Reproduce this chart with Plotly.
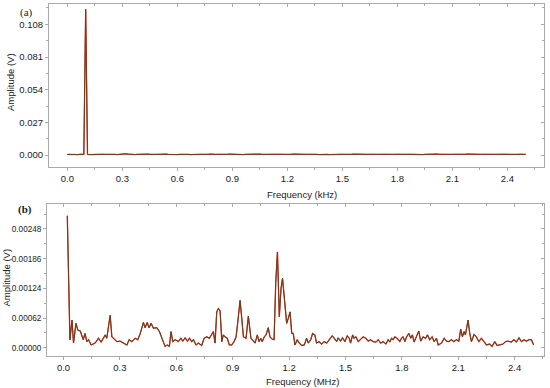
import numpy as np
import plotly.graph_objects as go

# ---------------- data ----------------
# Panel (a): frequency grid in kHz (0.00 .. 2.50, step 0.01) and amplitude in mV
freq_a_khz = np.round(np.arange(251) * 0.01, 2)
amp_a_mv = [
    0.5, 0.4, 0.5, 0.6, 0.4, 0.5, 0.4, 0.6, 0.5, 0.6,
    120.4, 0.6, 0.4, 0.5, 0.5, 0.6, 0.4, 0.5, 0.7, 0.6,
    0.5, 0.6, 0.4, 0.5, 0.7, 0.6, 0.5, 0.4, 0.6, 0.7,
    0.8, 0.9, 1.0, 0.8, 0.6, 0.5, 0.6, 0.4, 0.5, 0.6,
    0.5, 0.4, 0.6, 0.5, 0.7, 0.5, 0.4, 0.5, 0.6, 0.5,
    0.6, 0.7, 0.9, 1.0, 0.7, 0.5, 0.4, 0.5, 0.6, 0.5,
    0.4, 0.5, 0.6, 0.5, 0.4, 0.6, 0.5, 0.4, 0.5, 0.6,
    0.5, 0.4, 0.5, 0.6, 0.5, 0.4, 0.5, 0.6, 0.7, 0.5,
    0.4, 0.5, 0.6, 0.5, 0.4, 0.5, 0.6, 0.5, 0.7, 0.6,
    0.5, 0.4, 0.5, 0.6, 0.5, 0.6, 0.4, 0.5, 0.6, 0.5,
    0.6, 0.5, 0.4, 0.5, 0.6, 0.7, 0.5, 0.4, 0.5, 0.6,
    0.5, 0.6, 0.7, 0.6, 0.5, 0.4, 0.5, 0.6, 0.5, 0.4,
    0.5, 0.6, 0.5, 0.7, 0.6, 0.5, 0.4, 0.5, 0.6, 0.5,
    0.4, 0.5, 0.6, 0.7, 0.5, 0.6, 0.5, 0.4, 0.5, 0.6,
    0.5, 0.6, 0.5, 0.4, 0.5, 0.6, 0.7, 0.5, 0.4, 0.5,
    0.6, 0.5, 0.4, 0.5, 0.6, 0.5, 0.7, 0.6, 0.5, 0.4,
    0.5, 0.6, 0.5, 0.4, 0.5, 0.6, 0.5, 0.4, 0.6, 0.5,
    0.4, 0.5, 0.6, 0.5, 0.7, 0.6, 0.5, 0.4, 0.5, 0.6,
    0.5, 0.4, 0.5, 0.6, 0.5, 0.4, 0.5, 0.6, 0.5, 0.4,
    0.5, 0.6, 0.7, 0.5, 0.4, 0.5, 0.6, 0.5, 0.4, 0.5,
    0.6, 0.7, 0.8, 0.6, 0.5, 0.4, 0.5, 0.6, 0.5, 0.4,
    0.5, 0.6, 0.5, 0.4, 0.5, 0.6, 0.5, 0.6, 0.8, 0.7,
    0.5, 0.4, 0.5, 0.6, 0.5, 0.4, 0.5, 0.6, 0.5, 0.4,
    0.5, 0.6, 0.5, 0.4, 0.5, 0.6, 0.7, 0.5, 0.4, 0.5,
    0.6, 0.5, 0.4, 0.5, 0.6, 0.5, 0.6, 0.8, 0.5, 0.6,
    0.5,
]

# Panel (b): frequency in MHz and amplitude in microvolts
freq_b_mhz = [
    0.020, 0.034, 0.045, 0.053, 0.066, 0.076, 0.089, 0.098, 0.105, 0.114,
    0.124, 0.133, 0.147, 0.168, 0.186, 0.200, 0.222, 0.230, 0.248, 0.257,
    0.266, 0.284, 0.301, 0.319, 0.337, 0.349, 0.363, 0.381, 0.395, 0.408,
    0.425, 0.434, 0.445, 0.455, 0.466, 0.478, 0.496, 0.510, 0.523, 0.540,
    0.553, 0.563, 0.572, 0.581, 0.594, 0.611, 0.624, 0.634, 0.647, 0.659,
    0.670, 0.682, 0.691, 0.705, 0.717, 0.735, 0.748, 0.762, 0.776, 0.789,
    0.797, 0.806, 0.815, 0.824, 0.833, 0.842, 0.850, 0.859, 0.871, 0.882,
    0.895, 0.907, 0.918, 0.927, 0.939, 0.948, 0.957, 0.971, 0.983, 0.997,
    1.010, 1.019, 1.031, 1.040, 1.049, 1.057, 1.068, 1.077, 1.089, 1.098,
    1.110, 1.120, 1.129, 1.138, 1.148, 1.157, 1.165, 1.174, 1.187, 1.196,
    1.205, 1.214, 1.222, 1.231, 1.243, 1.254, 1.267, 1.281, 1.293, 1.302,
    1.315, 1.325, 1.337, 1.346, 1.359, 1.373, 1.387, 1.400, 1.417, 1.429,
    1.440, 1.453, 1.461, 1.474, 1.484, 1.497, 1.509, 1.520, 1.527, 1.538,
    1.545, 1.555, 1.568, 1.580, 1.594, 1.608, 1.621, 1.633, 1.647, 1.662,
    1.674, 1.687, 1.700, 1.715, 1.727, 1.736, 1.745, 1.753, 1.762, 1.775,
    1.789, 1.798, 1.806, 1.816, 1.825, 1.837, 1.847, 1.856, 1.865, 1.877,
    1.890, 1.900, 1.913, 1.926, 1.936, 1.948, 1.961, 1.971, 1.984, 1.993,
    2.011, 2.025, 2.037, 2.050, 2.064, 2.076, 2.090, 2.103, 2.113, 2.122,
    2.131, 2.138, 2.152, 2.161, 2.170, 2.184, 2.196, 2.209, 2.223, 2.237,
    2.250, 2.267, 2.280, 2.294, 2.306, 2.320, 2.338, 2.352, 2.364, 2.382,
    2.396, 2.409, 2.423, 2.436, 2.450, 2.462, 2.476, 2.489, 2.501,
]
amp_b_uv = [
    2756, 166, 580, 100, 510, 370, 350, 270, 170, 300,
    130, 170, 60, 100, 200, 120, 270, 200, 680, 230,
    200, 130, 140, 100, 60, 170, 130, 200, 170, 300,
    530, 420, 530, 420, 510, 410, 420, 340, 200, 30,
    60, 30, 340, 130, 170, 130, 200, 140, 210, 140,
    200, 130, 170, 60, 100, 50, 200, 230, 200, 280,
    340, 100, 750, 820, 770, 130, 270, 230, 200, 60,
    60, 130, 230, 540, 990, 620, 230, 200, 660, 200,
    130, 100, 270, 130, 200, 130, 230, 270, 420, 230,
    180, 170, 1370, 2000, 650, 1240, 1450, 1100, 510, 620,
    750, 300, 300, 60, 170, 100, 50, 60, 200, 100,
    170, 300, 270, 100, 130, 80, 130, 100, 200, 250,
    200, 130, 210, 140, 210, 130, 250, 200, 100, 270,
    200, 230, 130, 170, 230, 200, 140, 170, 130, 120,
    170, 100, 130, 80, 170, 120, 200, 170, 230, 200,
    130, 200, 230, 130, 230, 300, 200, 270, 120, 230,
    350, 140, 230, 200, 270, 170, 230, 130, 200, 60,
    100, 200, 140, 130, 170, 130, 170, 140, 390, 230,
    340, 270, 580, 300, 130, 280, 230, 130, 200, 130,
    60, 80, 30, 130, 50, 60, 80, 130, 140, 120,
    170, 120, 210, 130, 170, 140, 170, 170, 60,
]

amp_a_v = [v / 1000.0 for v in amp_a_mv]
amp_b_v = [v / 1e6 for v in amp_b_uv]

x_ticks = [0.0, 0.3, 0.6, 0.9, 1.2, 1.5, 1.8, 2.1, 2.4]
y_ticks_a = [0.000, 0.027, 0.054, 0.081, 0.108]
y_ticks_b = [0.00000, 0.00062, 0.00124, 0.00186, 0.00248]

# ---------------- styling ----------------
W, H = 550, 388
FRAME = "#aaaaaa"
TXT = "#222222"
FONT = "Arial, Liberation Sans, sans-serif"
RED = "#dd3322"
BROWN = "#6e3d1c"


def px_x(p):
    return p / W


def px_y(p):
    return 1 - p / H


dom_a_x = [px_x(49), px_x(544)]
dom_a_y = [px_y(167), px_y(4)]
dom_b_x = [px_x(47), px_x(544)]
dom_b_y = [px_y(356), px_y(204)]

range_a_x = [-0.1, 2.6]
range_a_y = [-0.0099, 0.1248]
range_b_x = [-0.088, 2.556]
range_b_y = [-0.00017, 0.0030]

fig = go.Figure()

for xs, ys, xa, ya in [(freq_a_khz, amp_a_v, "x", "y"), (freq_b_mhz, amp_b_v, "x2", "y2")]:
    fig.add_trace(go.Scatter(x=xs, y=ys, mode="lines", xaxis=xa, yaxis=ya,
                             line=dict(color=RED, width=1.3), showlegend=False, hoverinfo="skip"))
    fig.add_trace(go.Scatter(x=xs, y=ys, mode="lines", xaxis=xa, yaxis=ya,
                             line=dict(color=BROWN, width=1.0), showlegend=False, hoverinfo="skip"))

# empty traces so overlay (mirror-tick) axes are created
fig.add_trace(go.Scatter(x=[], y=[], xaxis="x3", yaxis="y", showlegend=False))
fig.add_trace(go.Scatter(x=[], y=[], xaxis="x", yaxis="y3", showlegend=False))
fig.add_trace(go.Scatter(x=[], y=[], xaxis="x4", yaxis="y2", showlegend=False))
fig.add_trace(go.Scatter(x=[], y=[], xaxis="x2", yaxis="y4", showlegend=False))

tickfont = dict(family=FONT, size=9.5, color=TXT)
tickfont_small = dict(family=FONT, size=8.2, color=TXT)


def main_x(domain, rng, anchor):
    return dict(domain=domain, range=rng, anchor=anchor, tickvals=x_ticks, tickformat=".1f",
                showline=True, mirror=True, linecolor=FRAME, linewidth=1,
                ticks="outside", ticklen=3, tickcolor=FRAME, tickwidth=1,
                minor=dict(ticks="outside", ticklen=2, dtick=0.15, tick0=0, tickcolor=FRAME),
                showgrid=False, zeroline=False, tickfont=tickfont)


def main_y(domain, rng, anchor, vals, fmt, mdt, tf):
    return dict(domain=domain, range=rng, anchor=anchor, tickvals=vals, tickformat=fmt,
                showline=True, mirror=True, linecolor=FRAME, linewidth=1,
                ticks="outside", ticklen=3, tickcolor=FRAME, tickwidth=1,
                minor=dict(ticks="outside", ticklen=2, dtick=mdt, tick0=0, tickcolor=FRAME),
                showgrid=False, zeroline=False, tickfont=tf)


def over_x(over, rng, anchor):
    return dict(overlaying=over, side="top", anchor=anchor, range=rng, tickvals=x_ticks,
                showticklabels=False, showline=False, showgrid=False, zeroline=False,
                ticks="inside", ticklen=3, tickcolor=FRAME,
                minor=dict(ticks="inside", ticklen=2, dtick=0.15, tick0=0, tickcolor=FRAME))


def over_y(over, rng, anchor, vals, mdt):
    return dict(overlaying=over, side="right", anchor=anchor, range=rng, tickvals=vals,
                showticklabels=False, showline=False, showgrid=False, zeroline=False,
                ticks="inside", ticklen=3, tickcolor=FRAME,
                minor=dict(ticks="inside", ticklen=2, dtick=mdt, tick0=0, tickcolor=FRAME))


fig.update_layout(
    width=W, height=H,
    margin=dict(l=0, r=0, t=0, b=0),
    paper_bgcolor="white", plot_bgcolor="white",
    xaxis=main_x(dom_a_x, range_a_x, "y"),
    yaxis=main_y(dom_a_y, range_a_y, "x", y_ticks_a, ".3f", 0.0135, tickfont),
    xaxis2=main_x(dom_b_x, range_b_x, "y2"),
    yaxis2=main_y(dom_b_y, range_b_y, "x2", y_ticks_b, ".5f", 0.00031, tickfont_small),
    xaxis3=over_x("x", range_a_x, "y"),
    yaxis3=over_y("y", range_a_y, "x", y_ticks_a, 0.0135),
    xaxis4=over_x("x2", range_b_x, "y2"),
    yaxis4=over_y("y2", range_b_y, "x2", y_ticks_b, 0.00031),
)

ann_font = dict(family=FONT, size=9.5, color=TXT)
serif = dict(family="Liberation Serif, Times New Roman, serif", size=11, color=TXT)
annotations = [
    dict(text="Frequency (kHz)", x=px_x(302), y=px_y(194), xref="paper", yref="paper",
         showarrow=False, font=ann_font, xanchor="center", yanchor="middle"),
    dict(text="Frequency (MHz)", x=px_x(302), y=px_y(381), xref="paper", yref="paper",
         showarrow=False, font=ann_font, xanchor="center", yanchor="middle"),
    dict(text="Amplitude (V)", x=px_x(10), y=px_y(82), xref="paper", yref="paper",
         showarrow=False, font=ann_font, textangle=-90, xanchor="center", yanchor="middle"),
    dict(text="Amplitude (V)", x=px_x(5.5), y=px_y(278), xref="paper", yref="paper",
         showarrow=False, font=ann_font, textangle=-90, xanchor="center", yanchor="middle"),
    dict(text="(a)", x=px_x(18), y=px_y(12), xref="paper", yref="paper",
         showarrow=False, font=serif, xanchor="left", yanchor="middle"),
    dict(text="<b>(b)</b>", x=px_x(16), y=px_y(209), xref="paper", yref="paper",
         showarrow=False, font=serif, xanchor="left", yanchor="middle"),
]
fig.update_layout(annotations=annotations)

fig.write_html("out.html", config={"displayModeBar": False},
               post_script="document.body.style.margin='0';document.body.style.padding='0';")
